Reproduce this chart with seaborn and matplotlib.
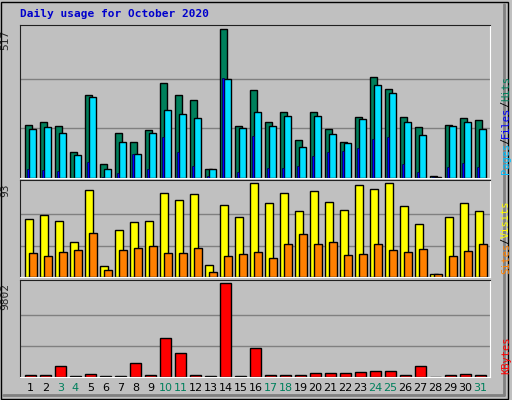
import numpy as np
import pandas as pd
import seaborn as sns
import matplotlib.pyplot as plt

days = list(range(1, 32))
weekend = [3, 4, 10, 11, 17, 18, 24, 25, 31]
hits = [186, 193, 182, 91, 288, 48, 158, 126, 168, 331, 288, 271, 31, 517, 182, 306, 193, 228, 133, 228, 171, 126, 211, 352, 310, 211, 178, 6, 186, 207, 200]
files = [172, 178, 158, 80, 281, 31, 126, 84, 158, 235, 221, 207, 31, 345, 175, 231, 182, 217, 109, 217, 154, 122, 204, 324, 296, 196, 150, 2, 182, 193, 172]
pages = [31, 27, 24, 0, 55, 2, 16, 84, 31, 143, 91, 41, 6, 349, 20, 147, 34, 34, 41, 76, 91, 94, 104, 136, 143, 48, 20, 2, 38, 52, 38]
visits = [57, 61, 55, 35, 86, 11, 47, 54, 55, 83, 76, 82, 12, 71, 59, 93, 73, 83, 65, 85, 74, 66, 91, 87, 93, 70, 52, 3, 59, 73, 65]
sites = [24, 21, 25, 27, 44, 7, 27, 29, 31, 24, 24, 29, 5, 21, 23, 25, 19, 33, 43, 33, 35, 22, 23, 33, 27, 25, 28, 3, 21, 26, 33]
kbytes = [215, 215, 1185, 108, 323, 108, 108, 1508, 215, 4093, 2477, 215, 108, 9802, 108, 3016, 215, 215, 215, 431, 431, 431, 539, 646, 646, 215, 1185, 0, 215, 323, 215]

BG = '#C0C0C0'
sns.set_style('white')
plt.rcParams['font.family'] = ['DejaVu Sans Mono', 'DejaVu Sans']

fig = plt.figure(figsize=(5.12, 4), dpi=100, facecolor=BG)
d = np.array(days)

def panel(rect, top, ymax):
    ax = fig.add_axes(rect, facecolor=BG)
    ax.set_xlim(0.3, 31.63)
    ax.set_ylim(0, ymax)
    for v in (top / 3, top * 2 / 3):
        ax.axhline(v, color='#808080', lw=1, zorder=0)
    ax.set_xticks([])
    ax.set_yticks([])
    for s in ('top', 'left'):
        ax.spines[s].set_color('#202020')
    for s in ('bottom', 'right'):
        ax.spines[s].set_color('white')
    ax.text(-0.02, 1.0 - (ymax - top) / ymax, str(top), transform=ax.transAxes,
            rotation=90, ha='right', va='top', fontsize=8)
    return ax

ek = dict(edgecolor='black', linewidth=1)
ax1 = panel([0.039, 0.555, 0.918, 0.3825], 517, 532)
ax1.bar(d - 0.13, hits, width=0.5, color='#00805C', **ek)
ax1.bar(d - 0.165, pages, width=0.17, color='#0000FF', edgecolor='#000040', linewidth=0.5, zorder=3)
ax1.bar(d + 0.13, files, width=0.5, color='#00E0FF', **ek, zorder=2)

ax2 = panel([0.039, 0.3075, 0.918, 0.2425], 93, 96)
ax2.bar(d - 0.09, visits, width=0.56, color='#FFFF00', **ek)
ax2.bar(d + 0.165, sites, width=0.5, color='#FF8000', **ek)

ax3 = panel([0.039, 0.0575, 0.918, 0.2425], 9802, 10150)
kb = pd.DataFrame({'day': days, 'kbytes': kbytes})
sns.barplot(data=kb, x='day', y='kbytes', native_scale=True, width=0.7,
            color='#FF0000', saturation=1, ax=ax3, **ek)
ax3.set_xlim(0.3, 31.63)
ax3.set_xlabel('')
ax3.set_ylabel('')
ax3.set_xticks([])
ax3.set_yticks([])

for dd in days:
    ax3.text(dd, -0.06, str(dd), transform=ax3.get_xaxis_transform(), ha='center', va='top',
             fontsize=8, family='DejaVu Sans', color='#00805C' if dd in weekend else 'black')

fig.text(0.04, 0.965, 'Daily usage for October 2020', color='#0000CC', fontsize=8,
         fontweight='bold', ha='left', va='center')

def side_label(y0, parts):
    y = y0
    for txt, col in parts:
        fig.text(0.988, y, txt, rotation=90, color=col, fontsize=7.5, ha='center', va='bottom')
        y += len(txt) * 0.0152

side_label(0.565, [('Pages', '#00C0FF'), ('/', 'black'), ('Files', '#0000FF'), ('/', 'black'), ('Hits', '#00805C')])
side_label(0.315, [('Sites', '#FF8000'), ('/', 'black'), ('Visits', '#FFFF00')])
side_label(0.065, [('KBytes', '#FF0000')])

# outer 3d frame
fig.add_artist(plt.Rectangle((0.002, 0.003), 0.99, 0.993, transform=fig.transFigure,
                             fill=False, edgecolor='black', lw=1))
fig.add_artist(plt.Line2D([0.005, 0.985], [0.012, 0.012], transform=fig.transFigure, color='#808080', lw=2))
fig.add_artist(plt.Line2D([0.985, 0.985], [0.012, 0.99], transform=fig.transFigure, color='#808080', lw=2))

fig.savefig('out.png', dpi=100, facecolor=BG)
